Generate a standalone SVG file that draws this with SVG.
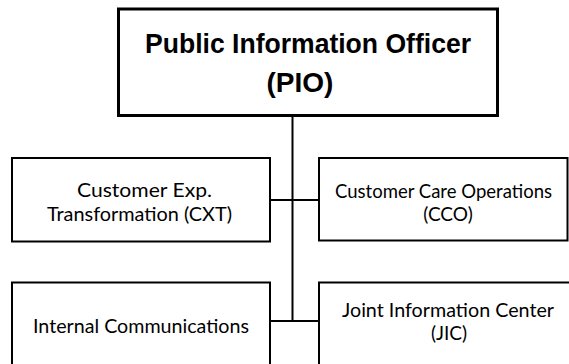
<svg xmlns="http://www.w3.org/2000/svg" width="569" height="364" viewBox="0 0 569 364">
<style>
.box{fill:#fff;stroke:#000;stroke-width:2}
.top{fill:#fff;stroke:#000;stroke-width:3}
.title{font-family:"Liberation Sans",Arial,sans-serif;font-weight:bold;font-size:28px;fill:#000}
.lbl{font-family:Lato,"Open Sans",sans-serif;font-size:19px;fill:#000}
.conn{stroke:#000;stroke-width:2;fill:none}
</style>
<rect width="569" height="364" fill="#fff"/>
<g id="connectors">
<line class="conn" x1="292.5" y1="116" x2="292.5" y2="322"/>
<line class="conn" x1="270" y1="200" x2="319" y2="200"/>
<line class="conn" x1="270" y1="321" x2="319" y2="321"/>
</g>
<g id="pio">
<rect class="top" x="118.5" y="9" width="379" height="106.5"/>
<text class="title" x="145" y="53" textLength="326" lengthAdjust="spacingAndGlyphs">Public Information Officer</text>
<text class="title" x="300" y="92" text-anchor="middle">(PIO)</text>
</g>
<g id="cxt">
<rect class="box" x="12" y="158" width="258" height="83.5"/>
<text class="lbl" x="77" y="197" textLength="135" lengthAdjust="spacingAndGlyphs">Customer Exp.</text>
<text class="lbl" x="47" y="221" textLength="185" lengthAdjust="spacingAndGlyphs">Transformation (CXT)</text>
</g>
<g id="cco">
<rect class="box" x="319" y="158" width="248.5" height="82.5"/>
<text class="lbl" x="335" y="197.5" textLength="217" lengthAdjust="spacingAndGlyphs">Customer Care Operations</text>
<text class="lbl" x="448" y="221" text-anchor="middle">(CCO)</text>
</g>
<g id="internal">
<rect class="box" x="12" y="282.5" width="258" height="90"/>
<text class="lbl" x="33" y="333" textLength="216" lengthAdjust="spacingAndGlyphs">Internal Communications</text>
</g>
<g id="jic">
<rect class="box" x="319" y="282.5" width="260" height="90"/>
<text class="lbl" x="342" y="317" textLength="212" lengthAdjust="spacingAndGlyphs">Joint Information Center</text>
<text class="lbl" x="449" y="340" text-anchor="middle">(JIC)</text>
</g>
</svg>
